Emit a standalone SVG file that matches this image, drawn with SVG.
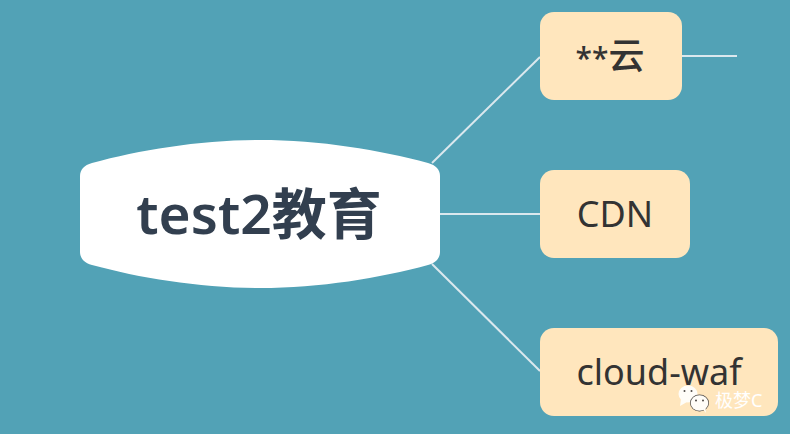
<svg xmlns="http://www.w3.org/2000/svg" width="790" height="434" viewBox="0 0 790 434">
<style>
.c{stroke:#dbe8ee;stroke-width:2;fill:none}
.b{fill:#ffe6bd}
.t{font-family:"Noto Sans","Noto Sans CJK SC",sans-serif;font-size:36px;fill:#333333;text-anchor:middle}
.w{fill:#fffdf8}
.e{fill:#4f4a46}
</style>
<rect width="790" height="434" fill="#52a2b6"/>
<g id="connectors">
<path class="c" d="M432 163L540 57"/>
<path class="c" d="M440 214H540"/>
<path class="c" d="M432 264L540 371"/>
<path class="c" d="M682 56H737"/>
</g>
<g id="root">
<path fill="#fff" d="M92 163C140 150 200 140 260 140C320 140 380 150 428 163C436 165 440 170 440 176V252C440 258 436 263 428 265C380 278 320 288 260 288C200 288 140 278 92 265C84 263 80 258 80 252V176C80 170 84 165 92 163Z"/>
<text x="259" y="234" text-anchor="middle" font-family="'Noto Sans','Noto Sans CJK SC',sans-serif" font-size="55" font-weight="600" fill="#323f4f">test2教育</text>
</g>
<g id="n1">
<rect class="b" x="540" y="12" width="142" height="88" rx="14"/>
<text class="t" x="610" y="69" font-weight="500"><tspan font-size="30">**</tspan>云</text>
</g>
<g id="n2">
<rect class="b" x="540" y="170" width="150" height="88" rx="14"/>
<text class="t" x="615" y="227">CDN</text>
</g>
<g id="n3">
<rect class="b" x="540" y="328" width="238" height="88" rx="14"/>
<text class="t" x="659" y="385">cloud-waf</text>
</g>
<g id="watermark">
<ellipse class="w" cx="688" cy="394" rx="9.500" ry="8.500"/>
<path class="w" d="M681 399L680 406L687 402Z"/>
<circle class="e" cx="684.500" cy="391" r="1"/>
<circle class="e" cx="691.500" cy="391" r="1"/>
<ellipse class="e" cx="699.500" cy="403" rx="9.500" ry="8.500"/>
<ellipse class="w" cx="699.500" cy="403" rx="8.800" ry="7.800"/>
<path class="w" d="M703 409L706 413L705 406Z"/>
<circle class="e" cx="696" cy="400.500" r="1"/>
<circle class="e" cx="703" cy="400.500" r="1"/>
<text x="715" y="407" font-family="'Noto Sans','Noto Sans CJK SC',sans-serif" font-size="18" fill="#ffffff">极梦C</text>
</g>
</svg>
